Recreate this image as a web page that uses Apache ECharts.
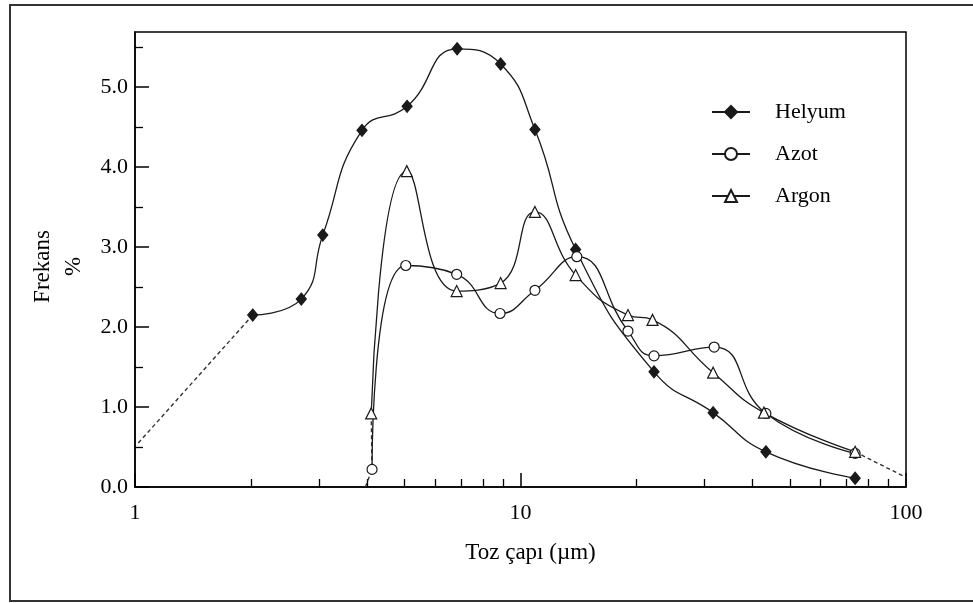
<!DOCTYPE html>
<html lang="tr">
<head>
    <meta charset="UTF-8">
    <title>Frekans - Toz çapı</title>
    <style>
        body { margin: 0; background: #fff; }
        .frame {
            position: absolute;
            left: 9px;
            top: 4px;
            width: 990px;
            height: 594px;
            border: 2px solid #333;
        }
        #main {
            position: absolute;
            left: 0;
            top: 0;
            width: 973px;
            height: 603px;
        }
    </style>
</head>
<body>
<script src="https://cdn.jsdelivr.net/npm/echarts@6/dist/echarts.min.js"></script>
<div class="frame"></div>
<div id="main"></div>
<script>
    // okunan degerler (x: toz capi um, y: frekans %)
    var helyumX = [2.02, 2.70, 3.07, 3.88, 5.08, 6.85, 8.88, 10.9, 13.9, 22.2, 31.6, 43.3, 73.8];
    var helyumY = [2.15, 2.35, 3.15, 4.46, 4.76, 5.48, 5.29, 4.47, 2.97, 1.44, 0.93, 0.44, 0.11];

    var azotX = [4.12, 5.04, 6.83, 8.85, 10.9, 14.0, 19.0, 22.2, 31.8, 43.3, 73.8];
    var azotY = [0.22, 2.77, 2.66, 2.17, 2.46, 2.88, 1.95, 1.64, 1.75, 0.92, 0.42];

    var argonX = [4.10, 5.07, 6.83, 8.88, 10.9, 13.9, 19.0, 22.0, 31.6, 42.8, 73.8];
    var argonY = [0.92, 3.95, 2.45, 2.55, 3.44, 2.65, 2.15, 2.09, 1.43, 0.93, 0.44];

    // kesikli uzantilar
    var helyumLeftX = [1.02, 2.02];
    var helyumLeftY = [0.55, 2.15];
    var tailX = [73.8, 100];
    var tailY = [0.44, 0.12];
    var lowX = [3.96, 4.12, 4.10];
    var lowY = [0.0, 0.22, 0.92];

    var xMajorTicks = [1, 10, 100];
    var xMinorTicks = [2, 3, 4, 5, 6, 7, 8, 9, 20, 30, 40, 50, 60, 70, 80, 90];
    var yMajorTicks = [0, 1, 2, 3, 4, 5];
    var yMinorTicks = [0.5, 1.5, 2.5, 3.5, 4.5, 5.5];

    var names = ['Helyum', 'Azot', 'Argon'];

    var font = 'Liberation Serif';
    var ink = '#1a1a1a';

    var pairs = function (xs, ys) {
        return xs.map(function (x, i) {
            return [x, ys[i]];
        });
    };

    var mainSerie = function (name, xs, ys, symbol, size, fill) {
        return {
            name: name,
            type: 'line',
            smooth: 0.5,
            data: pairs(xs, ys),
            symbol: symbol,
            symbolSize: size,
            showAllSymbol: true,
            z: 3,
            lineStyle: { color: ink, width: 1.3 },
            itemStyle: { color: fill, borderColor: ink, borderWidth: 1.2 }
        };
    };

    var dashSerie = function (xs, ys) {
        return {
            type: 'line',
            data: pairs(xs, ys),
            symbol: 'none',
            z: 2,
            lineStyle: { color: '#333', width: 1.4, type: [4, 3] }
        };
    };

    var chart = echarts.init(document.getElementById('main'));

    var option = {
        animation: false,
        backgroundColor: 'transparent',
        textStyle: { fontFamily: font },
        grid: {
            left: 135,
            top: 32,
            width: 771,
            height: 455,
            show: true,
            borderColor: '#000',
            borderWidth: 1.5
        },
        legend: {
            data: names,
            orient: 'vertical',
            left: 706,
            top: 96,
            itemWidth: 38,
            itemHeight: 15,
            itemGap: 20,
            textStyle: { fontFamily: font, fontSize: 22, color: '#000', padding: [0, 0, 0, 20] }
        },
        xAxis: [
            {
                type: 'log',
                logBase: 10,
                min: 1,
                max: 100,
                position: 'bottom',
                name: 'Toz çapı (µm)',
                nameLocation: 'middle',
                nameGap: 54,
                nameTextStyle: { fontFamily: font, fontSize: 23, color: '#000', padding: [0, 0, 0, 20] },
                axisLine: { lineStyle: { color: '#000', width: 1.5 } },
                axisTick: { inside: true, length: 14, customValues: xMajorTicks, lineStyle: { color: '#000', width: 1.5 } },
                axisLabel: { customValues: xMajorTicks, margin: 15, fontFamily: font, fontSize: 22, color: '#000' },
                splitLine: { show: false }
            },
            {
                type: 'log',
                logBase: 10,
                min: 1,
                max: 100,
                position: 'bottom',
                axisLine: { show: false },
                axisTick: { inside: true, length: 8, customValues: xMinorTicks, lineStyle: { color: '#000', width: 1.3 } },
                axisLabel: { show: false },
                splitLine: { show: false }
            }
        ],
        yAxis: [
            {
                type: 'value',
                min: 0,
                max: 5.69,
                position: 'left',
                name: 'Frekans\n%',
                nameLocation: 'middle',
                nameRotate: 90,
                nameGap: 44,
                nameTextStyle: { fontFamily: font, fontSize: 23, color: '#000', lineHeight: 31, padding: [0, 14, 0, 0] },
                axisLine: { show: true, lineStyle: { color: '#000', width: 1.5 } },
                axisTick: { show: true, inside: true, length: 14, customValues: yMajorTicks, lineStyle: { color: '#000', width: 1.5 } },
                axisLabel: {
                    customValues: yMajorTicks,
                    margin: 7,
                    fontFamily: font,
                    fontSize: 22,
                    color: '#000',
                    formatter: function (v) { return v.toFixed(1); }
                },
                splitLine: { show: false }
            },
            {
                type: 'value',
                min: 0,
                max: 5.69,
                position: 'left',
                axisLine: { show: false },
                axisTick: { show: true, inside: true, length: 8, customValues: yMinorTicks, lineStyle: { color: '#000', width: 1.3 } },
                axisLabel: { show: false },
                splitLine: { show: false }
            }
        ],
        series: [
            dashSerie(helyumLeftX, helyumLeftY),
            dashSerie(tailX, tailY),
            dashSerie(lowX, lowY),
            mainSerie('Helyum', helyumX, helyumY, 'diamond', [10, 12], ink),
            mainSerie('Azot', azotX, azotY, 'circle', 10, '#fff'),
            mainSerie('Argon', argonX, argonY, 'triangle', 11, '#fff')
        ]
    };

    chart.setOption(option);
</script>
</body>
</html>
